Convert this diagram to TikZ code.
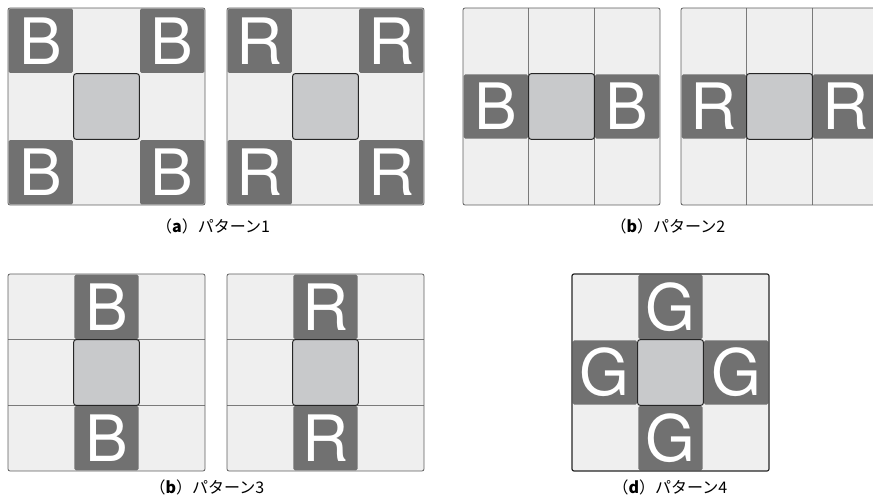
\documentclass[tikz,border=0pt]{standalone}
\usepackage{fontspec}
\setsansfont{TeX Gyre Heros}
\newfontfamily\jpfont{Noto Sans CJK JP}
\usetikzlibrary{positioning}

\definecolor{cellbg}{HTML}{EFEFEF}
\definecolor{markgray}{HTML}{717171}
\definecolor{midgray}{HTML}{C8C9CB}
\definecolor{framegray}{HTML}{5E5E5E}
\definecolor{gridgray}{HTML}{7A7A7A}

\begin{document}
\begin{tikzpicture}[x=1pt, y=-1pt,
    panel/.style={fill=cellbg, rounded corners=2pt},
    frame/.style={draw=framegray, line width=0.8pt, rounded corners=2pt},
    darkframe/.style={draw=black!85, line width=1.2pt, rounded corners=2pt},
    markcell/.style={fill=markgray, rounded corners=1.5pt},
    midcell/.style={fill=midgray, draw=black!85, line width=1pt, rounded corners=2.5pt},
    gridline/.style={draw=gridgray, line width=0.8pt},
    letter/.style={text=white, font=\sffamily\fontsize{64}{64}\selectfont, inner sep=0pt},
    caption/.style={font=\jpfont\fontsize{16}{16}\selectfont, inner sep=0pt}]

    \useasboundingbox (0,0) rectangle (873,502);
    \clip (0,0) rectangle (873,502);
    \pgfmathsetmacro\cellsz{197/3}

    % Pattern 1: corners
    \foreach \ox/\ch in {8/B, 227/R}{
        \begin{scope}[shift={(\ox,8)}]
            \fill[panel] (0,0) rectangle (197,197);
            \foreach \i/\j in {0/0, 2/0, 0/2, 2/2}{
                \fill[markcell] (\i*\cellsz+0.7, \j*\cellsz+0.7)
                    rectangle ({(\i+1)*\cellsz-0.7}, {(\j+1)*\cellsz-0.7});
                \node[letter] (pa-\ch-\i\j) at ({(\i+0.5)*\cellsz}, {(\j+0.5)*\cellsz}) {\ch};
            }
            \draw[midcell] (\cellsz,\cellsz) rectangle (2*\cellsz,2*\cellsz);
            \draw[frame] (0,0) rectangle (197,197);
        \end{scope}
    }

    % Pattern 2: left and right
    \foreach \ox/\ch in {463/B, 681/R}{
        \begin{scope}[shift={(\ox,8)}]
            \fill[panel] (0,0) rectangle (197,197);
            \draw[gridline] (\cellsz,0) -- (\cellsz,197);
            \draw[gridline] (2*\cellsz,0) -- (2*\cellsz,197);
            \foreach \i/\j in {0/1, 2/1}{
                \fill[markcell] (\i*\cellsz+0.7, \j*\cellsz+0.7)
                    rectangle ({(\i+1)*\cellsz-0.7}, {(\j+1)*\cellsz-0.7});
                \node[letter] (pb-\ch-\i\j) at ({(\i+0.5)*\cellsz}, {(\j+0.5)*\cellsz}) {\ch};
            }
            \draw[midcell] (\cellsz,\cellsz) rectangle (2*\cellsz,2*\cellsz);
            \draw[frame] (0,0) rectangle (197,197);
        \end{scope}
    }

    % Pattern 3: top and bottom
    \foreach \ox/\ch in {8/B, 227/R}{
        \begin{scope}[shift={(\ox,274)}]
            \fill[panel] (0,0) rectangle (197,197);
            \draw[gridline] (0,\cellsz) -- (197,\cellsz);
            \draw[gridline] (0,2*\cellsz) -- (197,2*\cellsz);
            \foreach \i/\j in {1/0, 1/2}{
                \fill[markcell] (\i*\cellsz+0.7, \j*\cellsz+0.7)
                    rectangle ({(\i+1)*\cellsz-0.7}, {(\j+1)*\cellsz-0.7});
                \node[letter] (pc-\ch-\i\j) at ({(\i+0.5)*\cellsz}, {(\j+0.5)*\cellsz}) {\ch};
            }
            \draw[midcell] (\cellsz,\cellsz) rectangle (2*\cellsz,2*\cellsz);
            \draw[frame] (0,0) rectangle (197,197);
        \end{scope}
    }

    % Pattern 4: cross
    \begin{scope}[shift={(572,274)}]
        \fill[panel] (0,0) rectangle (197,197);
        \foreach \i/\j in {1/0, 0/1, 2/1, 1/2}{
            \fill[markcell] (\i*\cellsz+0.7, \j*\cellsz+0.7)
                rectangle ({(\i+1)*\cellsz-0.7}, {(\j+1)*\cellsz-0.7});
            \node[letter] (pd-G-\i\j) at ({(\i+0.5)*\cellsz}, {(\j+0.5)*\cellsz}) {G};
        }
        \draw[midcell] (\cellsz,\cellsz) rectangle (2*\cellsz,2*\cellsz);
        \draw[darkframe] (0,0) rectangle (197,197);
    \end{scope}

    % Captions
    \node[caption] (cap-a) at (213,226) {（\textbf{a}）パターン1};
    \node[caption] (cap-b) at (668,226) {（\textbf{b}）パターン2};
    \node[caption] (cap-c) at (207,487) {（\textbf{b}）パターン3};
    \node[caption] (cap-d) at (670,487) {（\textbf{d}）パターン4};

\end{tikzpicture}
\end{document}
